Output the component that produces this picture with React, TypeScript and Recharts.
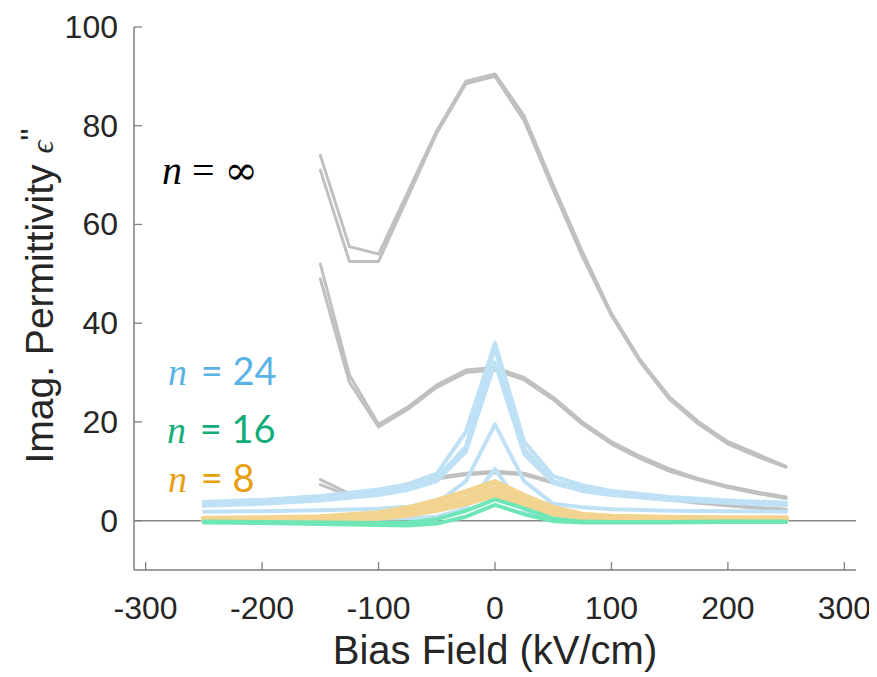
import React from "react";
import { ComposedChart, Line, XAxis, YAxis, ReferenceLine, Customized } from "recharts";

// ---------- data ----------
const xTicks = [-300, -200, -100, 0, 100, 200, 300];
const yTicks = [0, 20, 40, 60, 80, 100];

// n = infinity (gray), bias field points
const grayX = [-150, -125, -100, -75, -50, -25, 0, 25, 50, 75, 100, 125, 150, 175, 200, 225, 250];
const grayHighA = [74, 55.5, 54, 66.5, 79, 89, 90.5, 82, 68, 54.5, 42, 32.5, 25, 20, 16, 13.5, 11];
const grayHighB = [71, 52.5, 52.5, 65.5, 78.5, 88.5, 90, 81, 67, 53.5, 41.5, 32, 24.5, 19.5, 15.5, 13, 10.8];
const grayMidA = [52, 29.5, 19.5, 23, 27.5, 30.5, 31, 29, 25, 20, 16, 13, 10.5, 8.5, 7, 5.8, 4.8];
const grayMidB = [49, 28, 19, 22.5, 27, 30, 30.5, 28.5, 24.5, 19.5, 15.5, 12.5, 10, 8.2, 6.7, 5.5, 4.5];
const grayLowA = [8.3, 5.5, 6, 7.5, 8.8, 9.6, 10, 9.6, 7.9, 6.8, 6, 5.2, 4.5, 3.8, 3.2, 2.7, 2.3];
const grayLowB = [7.3, 5, 5.7, 7.2, 8.5, 9.3, 9.7, 9.3, 7.6, 6.5, 5.7, 4.9, 4.2, 3.5, 3, 2.5, 2.1];

// n = 24 (blue), n = 16 (green), n = 8 (orange)
const finiteX = [-250, -200, -150, -100, -75, -50, -25, 0, 25, 50, 75, 100, 150, 200, 250];
const blue1 = [3.8, 4.2, 5.0, 6.3, 7.4, 9.5, 18, 36, 16, 9.0, 7.2, 6.0, 4.8, 4.1, 3.6];
const blue2 = [3.2, 3.6, 4.4, 5.6, 6.7, 8.6, 15, 35, 14.5, 8.0, 6.4, 5.5, 4.4, 3.8, 3.3];
const blue3 = [3.0, 3.4, 4.1, 5.2, 6.2, 8.0, 14, 32, 13.5, 7.6, 6.0, 5.2, 4.2, 3.6, 3.1];
const blue4 = [1.8, 1.9, 2.1, 2.4, 2.8, 3.6, 8, 19.5, 8, 3.4, 2.7, 2.3, 2.0, 1.9, 1.8];
const blue5 = [0.2, 0.2, 0.3, 0.4, 0.5, 0.8, 2.5, 10.5, 2, 0.3, 0.2, 0.2, 0.2, 0.2, 0.2];
const orange1 = [0.4, 0.5, 0.7, 1.5, 2.5, 4.0, 5.8, 7.8, 5.0, 2.6, 1.2, 0.8, 0.6, 0.5, 0.5];
const orange2 = [0.2, 0.3, 0.5, 1.0, 1.8, 3.0, 4.5, 6.5, 4.0, 2.0, 0.9, 0.6, 0.4, 0.3, 0.3];
const orange3 = [0.1, 0.1, 0.3, 0.6, 1.2, 2.2, 3.5, 5.2, 3.0, 1.4, 0.6, 0.4, 0.3, 0.2, 0.2];
const green1 = [-0.2, -0.3, -0.4, -0.5, -0.4, 0.3, 2.0, 4.3, 2.5, 0.4, -0.2, -0.3, -0.3, -0.2, -0.2];
const green2 = [-0.4, -0.5, -0.7, -0.9, -1.0, -0.6, 0.8, 3.2, 1.3, -0.1, -0.4, -0.4, -0.4, -0.3, -0.3];

const labels = ["n = \u221E", "n = 24", "n = 16", "n = 8"];

// ---------- styling ----------
const W = 869;
const H = 669;
const AXIS = "#7f7f7f";
const TEXT = "#262626";
const SANS = "'Liberation Sans', Arial, sans-serif";
const GRAY = "#c0c0c0";
const BLUE = "#bfe1f5";
const ORANGE = "#f2d38f";
const GREEN = "#6fe6b8";

const pts = (xs: number[], ys: number[]) => xs.map((x, i) => ({ x, y: ys[i] }));

type S = { d: number[]; xs: number[]; c: string; w: number };
const series: S[] = [
  { d: grayHighA, xs: grayX, c: GRAY, w: 3 },
  { d: grayHighB, xs: grayX, c: GRAY, w: 3 },
  { d: grayMidA, xs: grayX, c: GRAY, w: 3 },
  { d: grayMidB, xs: grayX, c: GRAY, w: 3 },
  { d: grayLowA, xs: grayX, c: GRAY, w: 3 },
  { d: grayLowB, xs: grayX, c: GRAY, w: 3 },
  { d: blue1, xs: finiteX, c: BLUE, w: 4 },
  { d: blue2, xs: finiteX, c: BLUE, w: 4 },
  { d: blue3, xs: finiteX, c: BLUE, w: 4 },
  { d: blue4, xs: finiteX, c: BLUE, w: 4 },
  { d: blue5, xs: finiteX, c: BLUE, w: 4 },
  { d: orange3, xs: finiteX, c: ORANGE, w: 6 },
  { d: orange2, xs: finiteX, c: ORANGE, w: 6 },
  { d: orange1, xs: finiteX, c: ORANGE, w: 6 },
  { d: green2, xs: finiteX, c: GREEN, w: 4 },
  { d: green1, xs: finiteX, c: GREEN, w: 4 },
];

const BottomTick = (p: any) => (
  <g>
    <line x1={p.x} y1={p.y} x2={p.x} y2={p.y - 8} stroke={AXIS} strokeWidth={1.3} />
    <text x={p.x} y={p.y + 49} textAnchor="middle" fontFamily={SANS} fontSize={32} fill={TEXT}>
      {p.payload.value}
    </text>
  </g>
);
const TopTick = (p: any) => (
  <line x1={p.x} y1={p.y} x2={p.x} y2={p.y + 8} stroke={AXIS} strokeWidth={1.3} />
);
const LeftTick = (p: any) => (
  <g>
    <line x1={p.x} y1={p.y} x2={p.x + 8} y2={p.y} stroke={AXIS} strokeWidth={1.3} />
    <text x={p.x - 16} y={p.y + 11} textAnchor="end" fontFamily={SANS} fontSize={32} fill={TEXT}>
      {p.payload.value}
    </text>
  </g>
);
const RightTick = (p: any) => (
  <line x1={p.x} y1={p.y} x2={p.x - 8} y2={p.y} stroke={AXIS} strokeWidth={1.3} />
);

const MATH = "'Liberation Serif', 'DejaVu Serif', serif";
const LBL = "Lato, 'Open Sans', sans-serif";

const Annotations = () => {
  const rows = [
    { t: labels[0], x: 154, y: 176, c: "#000000" },
    { t: labels[1], x: 160, y: 377, c: "#5ab3e6" },
    { t: labels[2], x: 159, y: 435, c: "#12ad78" },
    { t: labels[3], x: 160, y: 484, c: "#e8a010" },
  ];
  return (
    <g>
      {rows.map((r, i) => {
        if (i === 0) {
          return (
            <text key={i} x={r.x} y={r.y} fill={r.c} fontSize={40} fontFamily={MATH}>
              <tspan fontStyle="italic">n</tspan>
              <tspan dx={10}>=</tspan>
              <tspan dx={10} fontFamily="'DejaVu Serif', serif" fontSize={40}>{"\u221E"}</tspan>
            </text>
          );
        }
        const rest = r.t.slice(1);
        return (
          <text key={i} x={r.x} y={r.y} fill={r.c} fontSize={38}>
            <tspan fontFamily={MATH} fontStyle="italic">n</tspan>
            <tspan fontFamily={LBL} dx={4}>{rest}</tspan>
          </text>
        );
      })}
      <text x={487} y={656} textAnchor="middle" fontFamily={SANS} fontSize={40} fill={TEXT}>
        Bias Field (kV/cm)
      </text>
      <text transform="translate(45,288) rotate(-90)" textAnchor="middle" fontFamily={SANS} fontSize={39} fill={TEXT}>
        Imag. Permittivity{" "}
        <tspan fontFamily={MATH} fontStyle="italic" fontSize={32}>{"\u03F5"}</tspan>
        <tspan fontSize={32} dy={-10}>''</tspan>
      </text>
    </g>
  );
};

export default function App() {
  return (
    <ComposedChart width={W} height={H} margin={{ top: 19, right: 21, bottom: 0, left: 0 }}>
      <XAxis
        xAxisId="b"
        dataKey="x"
        type="number"
        domain={[-310, 310]}
        ticks={xTicks}
        allowDataOverflow
        height={107}
        tickSize={0}
        tickMargin={0}
        tickLine={false}
        axisLine={{ stroke: AXIS, strokeWidth: 1.5 }}
        tick={<BottomTick />}
        interval={0}
      />
      <XAxis
        xAxisId="t"
        dataKey="x"
        type="number"
        orientation="top"
        domain={[-310, 310]}
        ticks={xTicks}
        allowDataOverflow
        height={0}
        tickSize={0}
        tickMargin={0}
        tickLine={false}
        axisLine={{ stroke: AXIS, strokeWidth: 1.5 }}
        tick={<TopTick />}
        interval={0}
      />
      <YAxis
        yAxisId="l"
        type="number"
        domain={[-10, 100]}
        ticks={yTicks}
        allowDataOverflow
        width={126}
        tickSize={0}
        tickMargin={0}
        tickLine={false}
        axisLine={{ stroke: AXIS, strokeWidth: 1.5 }}
        tick={<LeftTick />}
        interval={0}
      />
      <YAxis
        yAxisId="r"
        type="number"
        orientation="right"
        domain={[-10, 100]}
        ticks={yTicks}
        allowDataOverflow
        width={0}
        tickSize={0}
        tickMargin={0}
        tickLine={false}
        axisLine={{ stroke: AXIS, strokeWidth: 1.5 }}
        tick={<RightTick />}
        interval={0}
      />
      <ReferenceLine xAxisId="b" yAxisId="l" y={0} stroke="#8a8a8a" strokeWidth={1.5} />
      {series.map((s, i) => (
        <Line
          key={i}
          xAxisId="b"
          yAxisId="l"
          data={pts(s.xs, s.d)}
          dataKey="y"
          type="linear"
          stroke={s.c}
          strokeWidth={s.w}
          strokeLinejoin="round"
          strokeLinecap="round"
          dot={false}
          activeDot={false}
          isAnimationActive={false}
        />
      ))}
      <Customized component={<Annotations />} />
    </ComposedChart>
  );
}
